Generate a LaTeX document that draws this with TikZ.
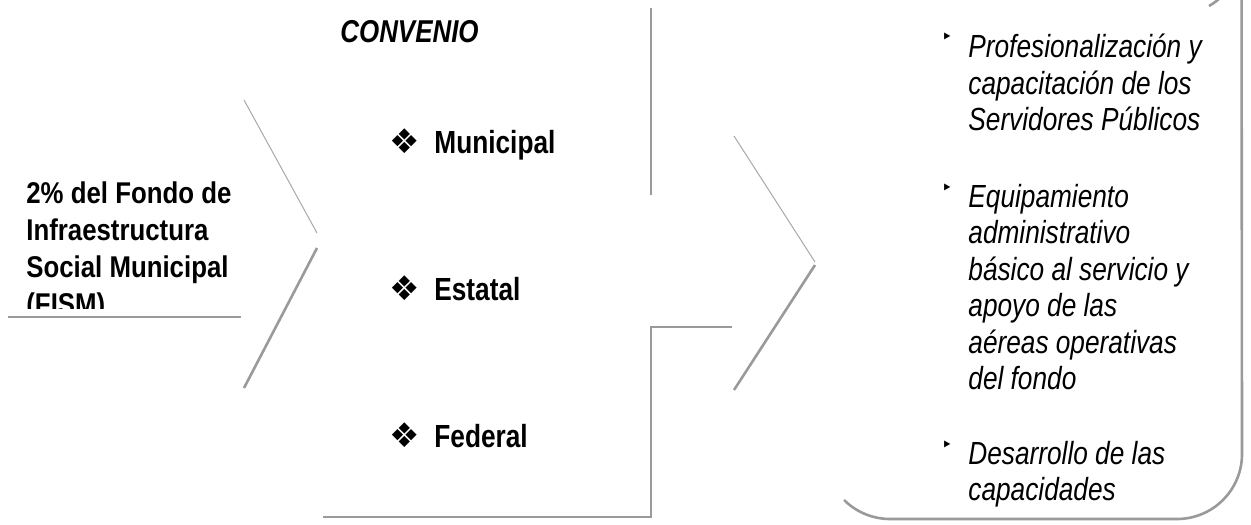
\documentclass[tikz,border=0pt]{standalone}
\usepackage{fontspec}
\setmainfont{Liberation Sans}
\newfontfamily\narrowfont[FakeStretch=0.82]{Liberation Sans}
\newfontfamily\leftfont[FakeStretch=0.86]{Liberation Sans}
\newfontfamily\symfont{DejaVu Sans}
\definecolor{shadowgray}{HTML}{9A9A9A}
\definecolor{thingray}{HTML}{A8A8A8}
\newcommand{\dia}{\makebox[22.5pt][l]{\symfont\fontsize{17}{18}\selectfont ❖}}
\tikzset{
  shadowline/.style={draw=shadowgray, line width=1.3pt},
  thinline/.style={draw=thingray, line width=0.5pt},
  lefttext/.style={anchor=north west, inner sep=0pt, align=left,
    font=\leftfont\bfseries\fontsize{15}{18.5}\selectfont},
  midtext/.style={anchor=base west, inner sep=0pt,
    font=\narrowfont\bfseries\fontsize{16}{19}\selectfont},
  righttext/.style={anchor=north west, inner sep=0pt, align=left,
    font=\narrowfont\itshape\fontsize{16}{18.2}\selectfont},
  rbullet/.style={anchor=base west, inner sep=0pt, font=\symfont\fontsize{9.5}{10}\selectfont},
}
\begin{document}
\begin{tikzpicture}[x=0.5pt, y=-0.5pt]
\useasboundingbox (0,0) rectangle (1251,524);
% left text, clipped at the rule
\begin{scope}
  \clip (0,0) rectangle (260,308);
  \node[lefttext] (fism) at (26,181) {2\% del Fondo de\\Infraestructura\\Social Municipal\\(FISM)};
\end{scope}
\coordinate (r1a) at (8,317);
\coordinate (r1b) at (241,317);
\draw[shadowline] (r1a) -- (r1b);
% left chevron
\coordinate (c1t) at (244,100);
\coordinate (c1m) at (317,233);
\coordinate (c1n) at (317,248);
\coordinate (c1b) at (244,388);
\draw[thinline] (c1t) -- (c1m);
\draw[shadowline] (c1n) -- (c1b);
% middle box shadow edges
\coordinate (m1) at (651,8);
\coordinate (m2) at (651,195);
\coordinate (m3) at (732,327);
\coordinate (m4) at (651,327);
\coordinate (m5) at (651,517);
\coordinate (m6) at (323,517);
\draw[shadowline] (m1) -- (m2);
\draw[shadowline] (m3) -- (m4) -- (m5) -- (m6);
% middle texts
\node[anchor=base west, inner sep=0pt, font=\narrowfont\bfseries\itshape\fontsize{15.8}{18}\selectfont] (conv) at (340,43) {CONVENIO};
\node[midtext] (mun) at (389,153) {\dia Municipal};
\node[midtext] (est) at (389,300) {\dia Estatal};
\node[midtext] (fed) at (389,447) {\dia Federal};
% right chevron
\coordinate (c2t) at (734,136);
\coordinate (c2m) at (815,262);
\coordinate (c2n) at (815,265);
\coordinate (c2b) at (734,390);
\draw[thinline] (c2t) -- (c2m);
\draw[shadowline] (c2n) -- (c2b);
% right rounded box shadow
\coordinate (rb1) at (1209,6);
\draw[shadowline] (rb1) arc[start angle=60, end angle=0, radius=65]
  -- (1242,454) arc[start angle=0, end angle=90, radius=65]
  -- (890,519) arc[start angle=90, end angle=135, radius=65];
% right texts
\node[rbullet] (b1) at (941,44) {‣};
\node[righttext] (t1) at (968,34) {Profesionalización y\\capacitación de los\\Servidores Públicos};
\node[rbullet] (b2) at (941,194) {‣};
\node[righttext] (t2) at (968,184) {Equipamiento\\administrativo\\básico al servicio y\\apoyo de las\\aéreas operativas\\del fondo};
\node[rbullet] (b3) at (941,451) {‣};
\node[righttext] (t3) at (968,441) {Desarrollo de las\\capacidades};
\end{tikzpicture}
\end{document}
